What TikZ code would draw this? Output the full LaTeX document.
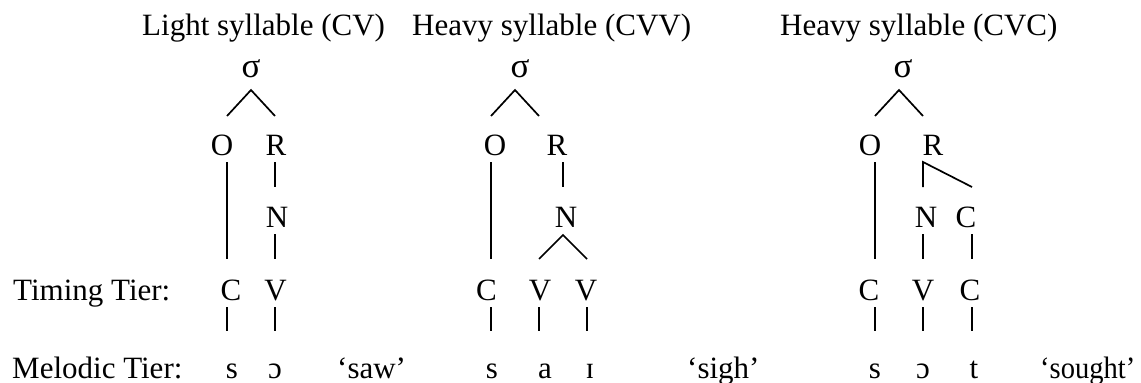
\documentclass[tikz,border=0pt]{standalone}
\usepackage{fontspec}
\setmainfont{Liberation Serif}
\usetikzlibrary{calc}
% vertical association line: upper node, lower node, column, gap above lower baseline
\newcommand\dropline[4]{\draw[link] ($(#1.base -| #3)+(0,7)$) -- ($(#2.base -| #3)+(0,-#4)$);}
\begin{document}
\begin{tikzpicture}[x=1pt,y=-1pt,
  every node/.style={inner sep=0pt,anchor=base,font=\fontsize{31}{36}\selectfont},
  lbl/.style={anchor=base west},
  sig/.style={font=\fontsize{35}{40}\selectfont},
  link/.style={line width=1.7pt}]
\useasboundingbox (0,0) rectangle (1141,383);

% column positions of the association lines
\coordinate (aS) at (251,0); \coordinate (aA) at (227,0); \coordinate (aB) at (275,0);
\coordinate (bS) at (515,0); \coordinate (bA) at (491,0); \coordinate (bR) at (539,0);
\coordinate (bB) at (563,0); \coordinate (bV) at (539,0); \coordinate (bW) at (587,0);
\coordinate (cS) at (899,0); \coordinate (cA) at (875,0); \coordinate (cB) at (923,0);
\coordinate (cC) at (972,0);

% tier labels
\node (tt) [lbl] at (13,300) {Timing Tier:};
\node (mt) [lbl] at (12,378) {Melodic Tier:};

% ---- light syllable CV ----
\node (t1) [lbl] at (142,35) {Light syllable (CV)};
\node (s1) [sig] at (251,77) {σ};
\node (o1) at (222,155) {O};
\node (r1) at (276,155) {R};
\node (n1) at (277,227) {N};
\node (c1) at (231,300) {C};
\node (v1) at (275.5,300) {V};
\node (m1a) at (232,378) {s};
\node (m1b) at (275,378) {ɔ};
\node (g1) [lbl] at (337,378) {‘saw’};
\draw[link] ($(o1.base -| aA)+(0,-39)$) -- ($(s1.base -| aS)+(0,13)$) -- ($(r1.base -| aB)+(0,-39)$);
\dropline{o1}{c1}{aA}{41}
\dropline{r1}{n1}{aB}{40}
\dropline{n1}{v1}{aB}{41}
\dropline{c1}{m1a}{aA}{47}
\dropline{v1}{m1b}{aB}{47}

% ---- heavy syllable CVV ----
\node (t2) [lbl] at (412,35) {Heavy syllable (CVV)};
\node (s2) [sig] at (520,77) {σ};
\node (o2) at (495,155) {O};
\node (r2) at (557,155) {R};
\node (n2) at (566,227) {N};
\node (c2) at (486.5,300) {C};
\node (v2) at (540,300) {V};
\node (w2) at (586,300) {V};
\node (m2a) at (492,378) {s};
\node (m2b) at (545,378) {a};
\node (m2c) at (590,378) {ɪ};
\node (g2) [lbl] at (687,378) {‘sigh’};
\draw[link] ($(o2.base -| bA)+(0,-39)$) -- ($(s2.base -| bS)+(0,13)$) -- ($(r2.base -| bR)+(0,-39)$);
\draw[link] ($(v2.base -| bV)+(0,-41)$) -- ($(n2.base -| bB)+(0,8)$) -- ($(w2.base -| bW)+(0,-41)$);
\dropline{o2}{c2}{bA}{41}
\dropline{r2}{n2}{bB}{40}
\dropline{c2}{m2a}{bA}{47}
\dropline{v2}{m2b}{bV}{47}
\dropline{w2}{m2c}{bW}{47}

% ---- heavy syllable CVC ----
\node (t3) [lbl] at (780,35) {Heavy syllable (CVC)};
\node (s3) [sig] at (903,77) {σ};
\node (o3) at (870,155) {O};
\node (r3) at (933,155) {R};
\node (n3) at (926,227) {N};
\node (k3) at (966,227) {C};
\node (c3) at (869,300) {C};
\node (v3) at (923,300) {V};
\node (d3) at (970,300) {C};
\node (m3a) at (875,378) {s};
\node (m3b) at (923,378) {ɔ};
\node (m3c) at (974,378) {t};
\node (g3) [lbl] at (1040,378) {\scalebox{0.92}[1]{‘sought’}};
\draw[link] ($(o3.base -| cA)+(0,-39)$) -- ($(s3.base -| cS)+(0,13)$) -- ($(r3.base -| cB)+(0,-39)$);
\draw[link] ($(k3.base -| cC)+(0,-40)$) -- ($(r3.base -| cB)+(0,7)$) -- ($(n3.base -| cB)+(0,-40)$);
\dropline{o3}{c3}{cA}{41}
\dropline{n3}{v3}{cB}{41}
\dropline{k3}{d3}{cC}{41}
\dropline{c3}{m3a}{cA}{47}
\dropline{v3}{m3b}{cB}{47}
\dropline{d3}{m3c}{cC}{47}
\end{tikzpicture}
\end{document}
